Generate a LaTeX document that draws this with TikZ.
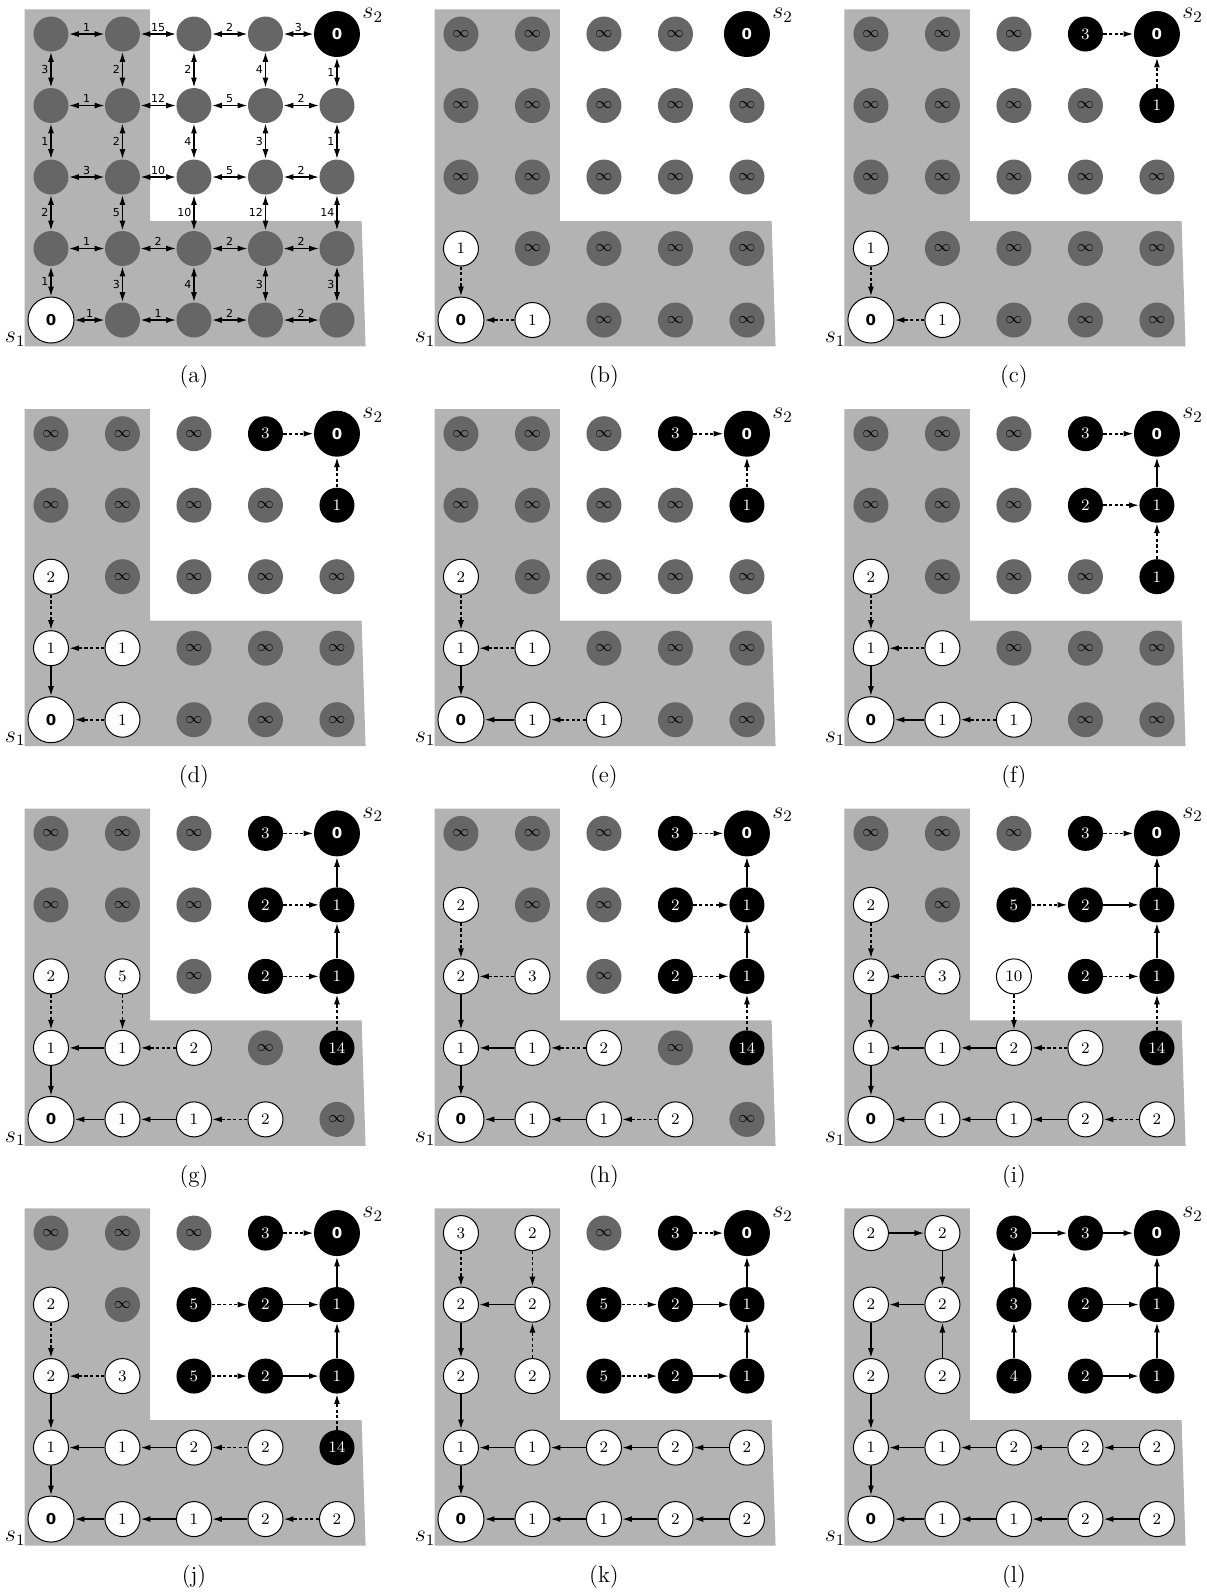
\documentclass[tikz,border=0pt]{standalone}
\usepackage{fontspec}
\newfontfamily\labelsans{DejaVu Sans}
\usetikzlibrary{arrows.meta}
\definecolor{regiongray}{HTML}{B3B3B3}
\definecolor{nodegray}{HTML}{666666}

\tikzset{
  cell/.style={circle,inner sep=0pt,minimum size=17.5pt,font=\fontsize{8}{9}\selectfont},
  enode/.style={cell,fill=nodegray},
  gnode/.style={cell,fill=nodegray},
  wnode/.style={cell,draw,fill=white,line width=0.5pt},
  bnode/.style={cell,fill=black,text=white},
  snode/.style={cell,draw,fill=white,line width=0.5pt,minimum size=23pt,font=\labelsans\bfseries\fontsize{7.5}{8}\selectfont},
  tnode/.style={cell,fill=black,text=white,minimum size=23pt,font=\labelsans\bfseries\fontsize{7.5}{8}\selectfont},
  sedge/.style={-{Latex[length=5pt,width=3pt]},line width=0.8pt},
  dedge/.style={sedge,dash pattern=on 1.6pt off 1.2pt},
  wedge/.style={{Latex[length=5pt,width=3pt]}-{Latex[length=5pt,width=3pt]},line width=0.7pt},
  wlabel/.style={font=\labelsans\fontsize{5.5}{6}\selectfont,inner sep=1pt},
  lregion/.style={fill=regiongray},
  slabel/.style={font=\fontsize{11.5}{13}\selectfont,inner sep=0pt},
  panelcap/.style={font=\fontsize{11.5}{13}\selectfont},
}

\def\splittok#1#2\relax{%
  \ifx e#1\def\tokstyle{enode}\def\toktext{}\fi
  \ifx g#1\def\tokstyle{gnode}\def\toktext{$\infty$}\fi
  \ifx w#1\def\tokstyle{wnode}\def\toktext{#2}\fi
  \ifx b#1\def\tokstyle{bnode}\def\toktext{#2}\fi
  \ifx S#1\def\tokstyle{snode}\def\toktext{0}\fi
  \ifx T#1\def\tokstyle{tnode}\def\toktext{0}\fi}

% #1 name, #2 shift, #3 cells from top row to bottom row
\newcommand{\gridpanel}[3]{%
  \begin{scope}[shift={#2}]
    \fill[lregion] (-0.37,-0.37) -- (4.40,-0.37) -- (4.345,1.385) -- (1.385,1.385)
      -- (1.385,4.345) -- (-0.37,4.345) -- cycle;
    \node[slabel] (#1s1) at (-0.5,-0.27) {$s_1$};
    \node[slabel] (#1s2) at (4.5,4.26) {$s_2$};
    \node[panelcap] (#1cap) at (2,-0.8) {(#1)};
    \foreach \tok [count=\i from 0] in {#3} {
      \pgfmathtruncatemacro\cc{mod(\i,5)}
      \pgfmathtruncatemacro\rr{4-int(\i/5)}
      \expandafter\splittok\tok\relax
      \node[\tokstyle] (#1\cc\rr) at (\cc,\rr) {\toktext};
    }
  \end{scope}}

\begin{document}
\begin{tikzpicture}[x=35.75pt,y=35.75pt]
\fill[white] (-0.713,-17.846) rectangle (16.168,4.476);
\useasboundingbox (-0.713,-17.846) rectangle (16.168,4.476);

\gridpanel{a}{(0,0)}{e,e,e,e,T, e,e,e,e,e, e,e,e,e,e, e,e,e,e,e, S,e,e,e,e}
\foreach \p/\q/\w in {04/14/1,14/24/15,24/34/2,34/44/3, 03/13/1,13/23/12,23/33/5,33/43/2,
    02/12/3,12/22/10,22/32/5,32/42/2, 01/11/1,11/21/2,21/31/2,31/41/2, 00/10/1,10/20/1,20/30/2,30/40/2}
  \draw[wedge] (a\p) -- node[above,wlabel] {\w} (a\q);
\foreach \p/\q/\w in {04/03/3,03/02/1,02/01/2,01/00/1, 14/13/2,13/12/2,12/11/5,11/10/3,
    24/23/2,23/22/4,22/21/10,21/20/4, 34/33/4,33/32/3,32/31/12,31/30/3, 44/43/1,43/42/1,42/41/14,41/40/3}
  \draw[wedge] (a\p) -- node[left,wlabel] {\w} (a\q);

\gridpanel{b}{(5.734,0)}{g,g,g,g,T, g,g,g,g,g, g,g,g,g,g, w1,g,g,g,g, S,w1,g,g,g}
\foreach \p/\q in {01/00,10/00} \draw[dedge] (b\p) -- (b\q);

\gridpanel{c}{(11.468,0)}{g,g,g,b3,T, g,g,g,g,b1, g,g,g,g,g, w1,g,g,g,g, S,w1,g,g,g}
\foreach \p/\q in {01/00,10/00,34/44,43/44} \draw[dedge] (c\p) -- (c\q);

\gridpanel{d}{(0,-5.59)}{g,g,g,b3,T, g,g,g,g,b1, w2,g,g,g,g, w1,w1,g,g,g, S,w1,g,g,g}
\foreach \p/\q in {01/00} \draw[sedge] (d\p) -- (d\q);
\foreach \p/\q in {02/01,11/01,10/00,34/44,43/44} \draw[dedge] (d\p) -- (d\q);

\gridpanel{e}{(5.734,-5.59)}{g,g,g,b3,T, g,g,g,g,b1, w2,g,g,g,g, w1,w1,g,g,g, S,w1,w1,g,g}
\foreach \p/\q in {01/00,10/00} \draw[sedge] (e\p) -- (e\q);
\foreach \p/\q in {02/01,11/01,20/10,34/44,43/44} \draw[dedge] (e\p) -- (e\q);

\gridpanel{f}{(11.468,-5.59)}{g,g,g,b3,T, g,g,g,b2,b1, w2,g,g,g,b1, w1,w1,g,g,g, S,w1,w1,g,g}
\foreach \p/\q in {01/00,10/00,43/44} \draw[sedge] (f\p) -- (f\q);
\foreach \p/\q in {02/01,11/01,20/10,34/44,33/43,42/43} \draw[dedge] (f\p) -- (f\q);

\gridpanel{g}{(0,-11.18)}{g,g,g,b3,T, g,g,g,b2,b1, w2,w5,g,b2,b1, w1,w1,w2,g,b14, S,w1,w1,w2,g}
\foreach \p/\q in {11/01,01/00,10/00,20/10,43/44,42/43} \draw[sedge] (g\p) -- (g\q);
\foreach \p/\q in {02/01,12/11,21/11,30/20,34/44,33/43,32/42,41/42} \draw[dedge] (g\p) -- (g\q);

\gridpanel{h}{(5.734,-11.18)}{g,g,g,b3,T, w2,g,g,b2,b1, w2,w3,g,b2,b1, w1,w1,w2,g,b14, S,w1,w1,w2,g}
\foreach \p/\q in {02/01,11/01,01/00,10/00,20/10,43/44,42/43} \draw[sedge] (h\p) -- (h\q);
\foreach \p/\q in {03/02,12/02,21/11,30/20,34/44,33/43,32/42,41/42} \draw[dedge] (h\p) -- (h\q);

\gridpanel{i}{(11.468,-11.18)}{g,g,g,b3,T, w2,g,b5,b2,b1, w2,w3,w10,b2,b1, w1,w1,w2,w2,b14, S,w1,w1,w2,w2}
\foreach \p/\q in {02/01,11/01,21/11,01/00,10/00,20/10,30/20,43/44,33/43,42/43} \draw[sedge] (i\p) -- (i\q);
\foreach \p/\q in {03/02,12/02,22/21,31/21,40/30,34/44,23/33,32/42,41/42} \draw[dedge] (i\p) -- (i\q);

\gridpanel{j}{(0,-16.77)}{g,g,g,b3,T, w2,g,b5,b2,b1, w2,w3,b5,b2,b1, w1,w1,w2,w2,b14, S,w1,w1,w2,w2}
\foreach \p/\q in {02/01,11/01,21/11,01/00,10/00,20/10,30/20,43/44,33/43,42/43,32/42} \draw[sedge] (j\p) -- (j\q);
\foreach \p/\q in {03/02,12/02,31/21,40/30,34/44,23/33,22/32,41/42} \draw[dedge] (j\p) -- (j\q);

\gridpanel{k}{(5.734,-16.77)}{w3,w2,g,b3,T, w2,w2,b5,b2,b1, w2,w2,b5,b2,b1, w1,w1,w2,w2,w2, S,w1,w1,w2,w2}
\foreach \p/\q in {13/03,03/02,02/01,11/01,21/11,31/21,41/31,01/00,10/00,20/10,30/20,40/30,43/44,33/43,42/43,32/42}
  \draw[sedge] (k\p) -- (k\q);
\foreach \p/\q in {04/03,14/13,12/13,34/44,23/33,22/32} \draw[dedge] (k\p) -- (k\q);

\gridpanel{l}{(11.468,-16.77)}{w2,w2,b3,b3,T, w2,w2,b3,b2,b1, w2,w2,b4,b2,b1, w1,w1,w2,w2,w2, S,w1,w1,w2,w2}
\foreach \p/\q in {04/14,14/13,13/03,03/02,12/13,02/01,11/01,21/11,31/21,41/31,01/00,10/00,20/10,30/20,40/30,
    24/34,34/44,23/24,22/23,33/43,43/44,32/42,42/43}
  \draw[sedge] (l\p) -- (l\q);
\end{tikzpicture}
\end{document}
